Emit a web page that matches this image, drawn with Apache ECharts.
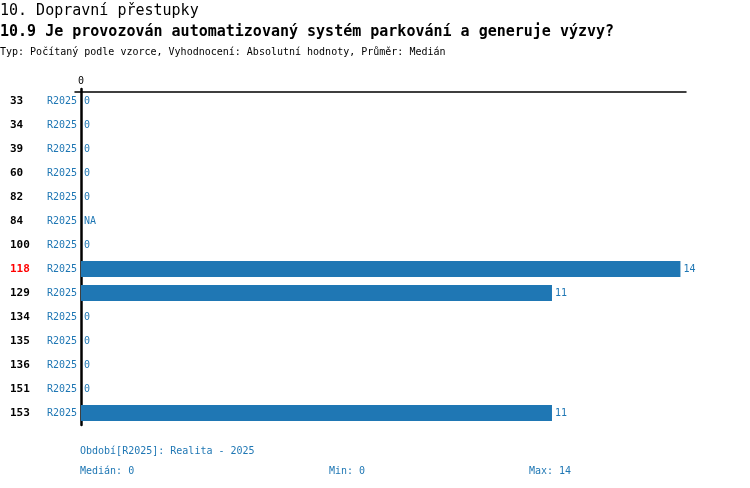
<!DOCTYPE html>
<html><head><meta charset="utf-8">
<script src="https://cdn.jsdelivr.net/npm/echarts@6/dist/echarts.min.js"></script>
<style>html,body{margin:0;padding:0;background:#fff}#c{width:750px;height:488px}</style>
</head><body><div id="c"></div>
<script>
var ids = ['33','34','39','60','82','84','100','118','129','134','135','136','151','153'];
var periods = ['R2025','R2025','R2025','R2025','R2025','R2025','R2025','R2025','R2025','R2025','R2025','R2025','R2025','R2025'];
var values = [0,0,0,0,0,null,0,14,11,0,0,0,0,11];
var highlightId = '118';
var titleMain = '10. Dopravní přestupky';
var titleSub = '10.9 Je provozován automatizovaný systém parkování a generuje výzvy?';
var titleType = 'Typ: Počítaný podle vzorce, Vyhodnocení: Absolutní hodnoty, Průměr: Medián';
var footPeriod = 'Období[R2025]: Realita - 2025';
var footMedian = 'Medián: 0', footMin = 'Min: 0', footMax = 'Max: 14';

var FONT = '"DejaVu Sans Mono", monospace';
var BLUE = '#1f77b4';
var cats = ids.map(function(id, i){ return id + '|' + periods[i]; });
var seriesData = values.map(function(v){
  if (v === null) return {value: 0, label: {formatter: 'NA'}};
  return v;
});
function t(text, left, top, size, weight, color){
  return {text: text, left: left, top: top, padding: 0,
    textStyle: {fontFamily: FONT, fontSize: size, fontWeight: weight, color: color}};
}

var chart = echarts.init(document.getElementById('c'));
chart.setOption({
  animation: false,
  backgroundColor: '#fff',
  title: [
    t(titleMain, 0, 4, 15, 'normal', '#000'),
    t(titleSub, 0, 25, 15, 'bold', '#000'),
    t(titleType, 0, 47, 10, 'normal', '#000'),
    t(footPeriod, 80, 446, 10, 'normal', BLUE),
    t(footMedian, 80, 466, 10, 'normal', BLUE),
    t(footMin, 329, 466, 10, 'normal', BLUE),
    t(footMax, 529, 466, 10, 'normal', BLUE)
  ],
  grid: {left: 75, right: 64, top: 89, bottom: 63, containLabel: false},
  xAxis: {
    type: 'value', position: 'top', min: -0.14, max: 14.13, offset: -3,
    axisLine: {show: true, onZero: false, lineStyle: {color: '#000', width: 1.5}},
    axisTick: {show: false},
    splitLine: {show: false},
    axisLabel: {customValues: [0], margin: 6, fontFamily: FONT, fontSize: 10, color: '#000'}
  },
  yAxis: {
    type: 'category', inverse: true, data: cats,
    axisLine: {show: true, onZero: true, lineStyle: {color: '#000', width: 2.5}},
    axisTick: {show: false},
    splitLine: {show: false},
    axisLabel: {
      margin: -2, interval: 0,
      formatter: function(v){
        var p = v.split('|');
        var st = p[0] === highlightId ? 'idr' : 'id';
        return '{' + st + '|' + p[0] + '}{per|' + p[1] + '}';
      },
      rich: {
        id: {fontFamily: FONT, fontSize: 11, fontWeight: 'bold', color: '#000', width: 37, align: 'left'},
        idr: {fontFamily: FONT, fontSize: 11, fontWeight: 'bold', color: '#ff0000', width: 37, align: 'left'},
        per: {fontFamily: FONT, fontSize: 10, color: BLUE, width: 30, align: 'right'}
      }
    }
  },
  series: [{
    type: 'bar', data: seriesData, barWidth: 16,
    itemStyle: {color: BLUE},
    label: {show: true, position: 'right', distance: 3, fontFamily: FONT, fontSize: 10, color: BLUE}
  }]
});
</script></body></html>
